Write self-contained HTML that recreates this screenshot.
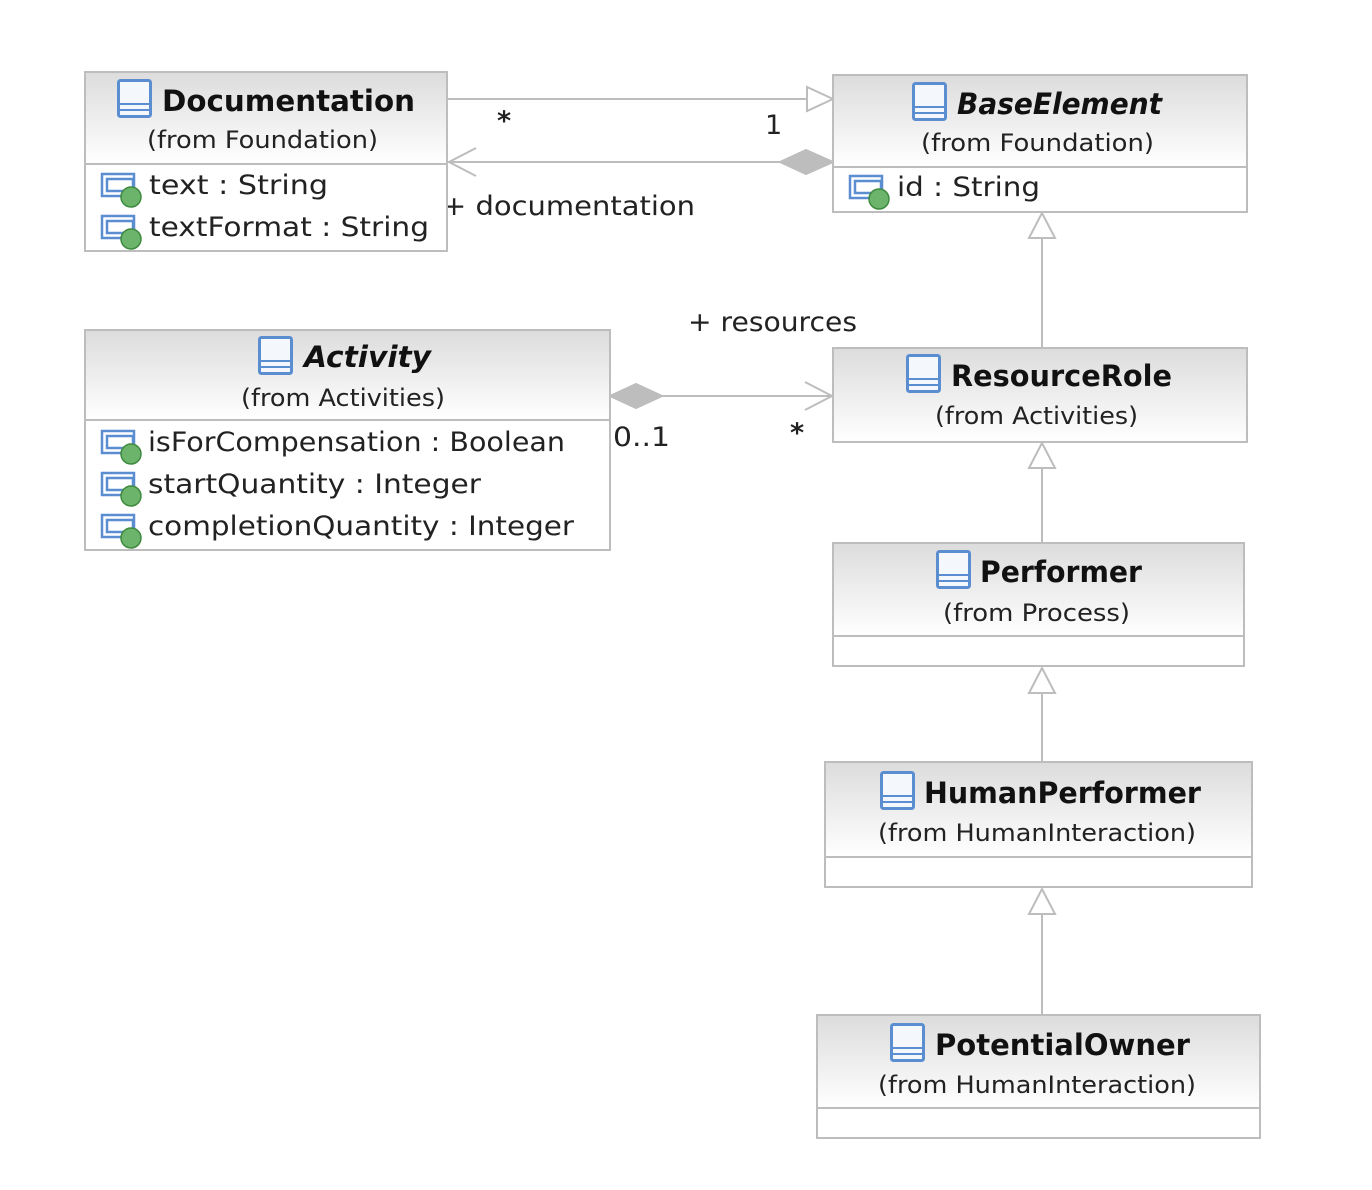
<!DOCTYPE html>
<html><head><meta charset="utf-8"><style>
html,body{margin:0;padding:0;background:#fff;}
svg{display:block;}
text{font-family:"DejaVu Sans","Liberation Sans",sans-serif;fill:#111;}
.t{font-weight:bold;font-size:29px;}
.s{font-size:24px;fill:#222;}
.a{font-size:27px;fill:#222;}
.l{font-size:27px;fill:#222;}
</style></head><body>
<svg width="1372" height="1190" viewBox="0 0 1372 1190" xmlns="http://www.w3.org/2000/svg">
<defs>
<linearGradient id="g" x1="0" y1="0" x2="0" y2="1">
<stop offset="0" stop-color="#dcdcdc"/><stop offset="1" stop-color="#ffffff"/>
</linearGradient>
<g id="ci">
<rect x="0.5" y="0.5" width="32" height="36" rx="2" fill="#f4f8fd" stroke="#5b8ed0" stroke-width="3"/>
<line x1="1" y1="24" x2="32" y2="24" stroke="#5b8ed0" stroke-width="2"/>
<line x1="1" y1="30" x2="32" y2="30" stroke="#5b8ed0" stroke-width="2"/>
</g>
<g id="ai">
<rect x="0" y="1" width="32" height="22" fill="#fff" stroke="#5b8ed0" stroke-width="2.5"/>
<rect x="5" y="6" width="26" height="12" fill="#fff" stroke="#5b8ed0" stroke-width="2.5"/>
<circle cx="29" cy="24" r="10" fill="#6cb36c" stroke="#3e8a3e" stroke-width="1.5"/>
</g>
</defs>

<g stroke="#bdbdbd" stroke-width="2" fill="none">
<line x1="447" y1="99" x2="807" y2="99"/>
<polygon points="807,87 833,99 807,111" fill="#fff"/>
<line x1="447" y1="162" x2="780" y2="162"/>
<polyline points="476,148 449,162 476,176"/>
<polygon points="780,162 806,150 833,162 806,174" fill="#bdbdbd"/>
<line x1="662" y1="396" x2="832" y2="396"/>
<polygon points="610,396 636,384 662,396 636,408" fill="#bdbdbd"/>
<polyline points="805,382 832,396 805,410"/>
<line x1="1042" y1="238" x2="1042" y2="348"/>
<polygon points="1042,213 1029,238 1055,238" fill="#fff"/>
<line x1="1042" y1="468" x2="1042" y2="543"/>
<polygon points="1042,443 1029,468 1055,468" fill="#fff"/>
<line x1="1042" y1="693" x2="1042" y2="762"/>
<polygon points="1042,668 1029,693 1055,693" fill="#fff"/>
<line x1="1042" y1="914" x2="1042" y2="1015"/>
<polygon points="1042,889 1029,914 1055,914" fill="#fff"/>
</g>

<text class="l" x="497" y="130" font-weight="bold">*</text>
<text class="l" x="765" y="134">1</text>
<text class="l" x="442" y="215" textLength="253" lengthAdjust="spacingAndGlyphs">+ documentation</text>
<text class="l" x="688" y="331" textLength="169" lengthAdjust="spacingAndGlyphs">+ resources</text>
<text class="l" x="613" y="446" textLength="57" lengthAdjust="spacingAndGlyphs">0..1</text>
<text class="l" x="790" y="442" font-weight="bold">*</text>

<g>
<rect x="85" y="72" width="362" height="92" fill="url(#g)" stroke="#bdbdbd" stroke-width="2"/>
<rect x="85" y="164" width="362" height="87" fill="#fff" stroke="#bdbdbd" stroke-width="2"/>
<use href="#ci" x="118" y="80"/>
<text class="t" x="162" y="111" textLength="253" lengthAdjust="spacingAndGlyphs">Documentation</text>
<text class="s" x="147" y="148" textLength="231" lengthAdjust="spacingAndGlyphs">(from Foundation)</text>
<use href="#ai" x="102" y="173"/>
<text class="a" x="149" y="194" textLength="179" lengthAdjust="spacingAndGlyphs">text : String</text>
<use href="#ai" x="102" y="215"/>
<text class="a" x="149" y="236" textLength="280" lengthAdjust="spacingAndGlyphs">textFormat : String</text>
</g>

<g>
<rect x="833" y="75" width="414" height="92" fill="url(#g)" stroke="#bdbdbd" stroke-width="2"/>
<rect x="833" y="167" width="414" height="45" fill="#fff" stroke="#bdbdbd" stroke-width="2"/>
<use href="#ci" x="913" y="83"/>
<text class="t" x="957" y="114" font-style="italic" textLength="205" lengthAdjust="spacingAndGlyphs">BaseElement</text>
<text class="s" x="921" y="151" textLength="233" lengthAdjust="spacingAndGlyphs">(from Foundation)</text>
<use href="#ai" x="850" y="175"/>
<text class="a" x="897" y="196" textLength="143" lengthAdjust="spacingAndGlyphs">id : String</text>
</g>

<g>
<rect x="85" y="330" width="525" height="90" fill="url(#g)" stroke="#bdbdbd" stroke-width="2"/>
<rect x="85" y="420" width="525" height="130" fill="#fff" stroke="#bdbdbd" stroke-width="2"/>
<use href="#ci" x="259" y="337"/>
<text class="t" x="304" y="367" font-style="italic" textLength="127" lengthAdjust="spacingAndGlyphs">Activity</text>
<text class="s" x="241" y="406" textLength="204" lengthAdjust="spacingAndGlyphs">(from Activities)</text>
<use href="#ai" x="102" y="430"/>
<text class="a" x="148" y="451" textLength="417" lengthAdjust="spacingAndGlyphs">isForCompensation : Boolean</text>
<use href="#ai" x="102" y="472"/>
<text class="a" x="148" y="493" textLength="333" lengthAdjust="spacingAndGlyphs">startQuantity : Integer</text>
<use href="#ai" x="102" y="514"/>
<text class="a" x="148" y="535" textLength="426" lengthAdjust="spacingAndGlyphs">completionQuantity : Integer</text>
</g>

<g>
<rect x="833" y="348" width="414" height="94" fill="url(#g)" stroke="#bdbdbd" stroke-width="2"/>
<use href="#ci" x="907" y="355"/>
<text class="t" x="951" y="386" textLength="221" lengthAdjust="spacingAndGlyphs">ResourceRole</text>
<text class="s" x="935" y="424" textLength="203" lengthAdjust="spacingAndGlyphs">(from Activities)</text>
</g>

<g>
<rect x="833" y="543" width="411" height="93" fill="url(#g)" stroke="#bdbdbd" stroke-width="2"/>
<rect x="833" y="636" width="411" height="30" fill="#fff" stroke="#bdbdbd" stroke-width="2"/>
<use href="#ci" x="937" y="551"/>
<text class="t" x="980" y="582" textLength="162" lengthAdjust="spacingAndGlyphs">Performer</text>
<text class="s" x="943" y="621" textLength="187" lengthAdjust="spacingAndGlyphs">(from Process)</text>
</g>

<g>
<rect x="825" y="762" width="427" height="95" fill="url(#g)" stroke="#bdbdbd" stroke-width="2"/>
<rect x="825" y="857" width="427" height="30" fill="#fff" stroke="#bdbdbd" stroke-width="2"/>
<use href="#ci" x="881" y="772"/>
<text class="t" x="924" y="803" textLength="277" lengthAdjust="spacingAndGlyphs">HumanPerformer</text>
<text class="s" x="878" y="841" textLength="318" lengthAdjust="spacingAndGlyphs">(from HumanInteraction)</text>
</g>

<g>
<rect x="817" y="1015" width="443" height="93" fill="url(#g)" stroke="#bdbdbd" stroke-width="2"/>
<rect x="817" y="1108" width="443" height="30" fill="#fff" stroke="#bdbdbd" stroke-width="2"/>
<use href="#ci" x="891" y="1024"/>
<text class="t" x="935" y="1055" textLength="255" lengthAdjust="spacingAndGlyphs">PotentialOwner</text>
<text class="s" x="878" y="1093" textLength="318" lengthAdjust="spacingAndGlyphs">(from HumanInteraction)</text>
</g>
</svg>
</body></html>
